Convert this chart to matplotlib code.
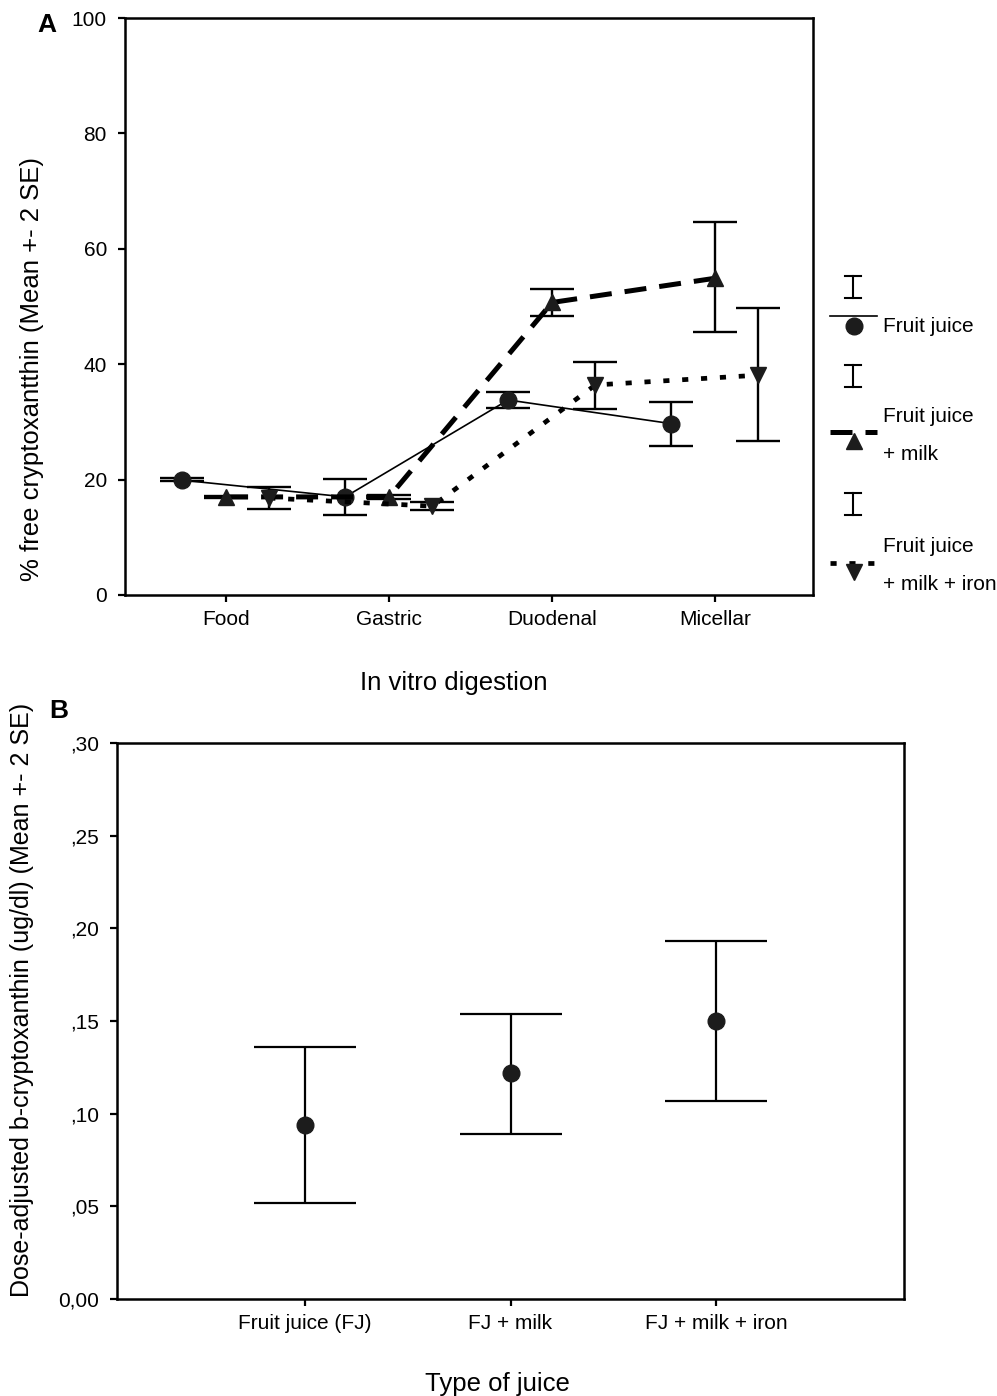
import matplotlib
matplotlib.use('Agg')
import matplotlib.pyplot as plt
from matplotlib.lines import Line2D
import numpy as np

plt.rcParams['font.family'] = ['Liberation Sans', 'DejaVu Sans']

# panel A: % free cryptoxanthin per digestion step
stages = ['Food', 'Gastric', 'Duodenal', 'Micellar']
fj_mean = [19.9, 17.0, 33.8, 29.7]
fj_low = [19.7, 13.9, 32.4, 25.8]
fj_high = [20.2, 20.1, 35.2, 33.4]
milk_mean = [17.0, 17.0, 50.7, 54.9]
milk_low = [16.8, 16.7, 48.3, 45.5]
milk_high = [17.2, 17.3, 53.0, 64.6]
iron_mean = [16.8, 15.4, 36.4, 38.1]
iron_low = [14.9, 14.7, 32.2, 26.7]
iron_high = [18.7, 16.1, 40.3, 49.7]
legend_names = ['Fruit juice', 'Fruit juice\n+ milk', 'Fruit juice\n+ milk + iron']

# panel B: dose-adjusted b-cryptoxanthin
juices = ['Fruit juice (FJ)', 'FJ + milk', 'FJ + milk + iron']
dose_mean = [0.094, 0.122, 0.150]
dose_low = [0.052, 0.089, 0.107]
dose_high = [0.136, 0.154, 0.193]
dose_ticks = [0.0, 0.05, 0.10, 0.15, 0.20, 0.25, 0.30]
dose_ticklabels = ['0,00', ',05', ',10', ',15', ',20', ',25', ',30']

W, H = 997, 1396
fig = plt.figure(figsize=(W / 100, H / 100), dpi=100)

def fx(x):
	return x / W

def fy(y):
	return 1 - y / H

def style_axes(ax):
	for s in ax.spines.values():
		s.set_linewidth(1.8)
	ax.tick_params(direction='out', width=1.6, length=5, labelsize=15)

def errs(mean, low, high):
	m = np.array(mean)
	return [m - np.array(low), np.array(high) - m]

# ---- panel A ----
ax1 = fig.add_axes([fx(125), fy(595), (813 - 125) / W, (595 - 18) / H])
style_axes(ax1)
xs = np.arange(len(stages))
series = [
	(fj_mean, fj_low, fj_high, -0.27, dict(ls='-', lw=1.2, marker='o', ms=12)),
	(milk_mean, milk_low, milk_high, 0.0, dict(ls=(0, (4.4, 2.6)), lw=3.6, marker='^', ms=12)),
	(iron_mean, iron_low, iron_high, 0.265, dict(ls=(0, (1.3, 2.7)), lw=3.4, marker='v', ms=12)),
]
for mean, low, high, off, st in series:
	ax1.errorbar(xs + off, mean, yerr=errs(mean, low, high), fmt='none',
			ecolor='black', elinewidth=1.7, capsize=15.5, capthick=1.7, zorder=2)
for mean, low, high, off, st in series:
	ax1.plot(xs + off, mean, color='black', mfc='#1c1c1c', mec='#1c1c1c',
			dash_capstyle='butt', zorder=3, **st)
ax1.set_xlim(-0.62, 3.60)
ax1.set_ylim(0, 100)
ax1.set_xticks(xs)
ax1.set_xticklabels(stages)
ax1.set_yticks([0, 20, 40, 60, 80, 100])
ax1.tick_params(axis='x', pad=6)
ax1.tick_params(axis='y', pad=8)

fig.text(fx(454), fy(683), 'In vitro digestion', fontsize=18.5, ha='center', va='center')
fig.text(fx(32), fy(369), '% free cryptoxantthin (Mean +- 2 SE)', fontsize=18.5,
		rotation=90, ha='center', va='center')
fig.text(fx(47), fy(25), 'A', fontsize=19, fontweight='bold', ha='center', va='center')

# legend drawn at the right of panel A
def fig_line(xd, yd, **kw):
	fig.add_artist(Line2D([fx(v) for v in xd], [fy(v) for v in yd],
			transform=fig.transFigure, color='black', **kw))

def ibar(yc):
	fig_line([853, 853], [yc - 11, yc + 11], lw=1.5)
	fig_line([845, 861], [yc - 11, yc - 11], lw=1.5)
	fig_line([845, 861], [yc + 11, yc + 11], lw=1.5)

leg_rows = [
	(287, 316, 326, [326]),
	(376, 432, 441, [416, 455]),
	(504, 563, 572, [546, 584]),
]
for (ib, ly, my, ty), (mean, low, high, off, st), name in zip(leg_rows, series, legend_names):
	ibar(ib)
	fig_line([830, 877], [ly, ly], ls=st['ls'], lw=st['lw'], dash_capstyle='butt')
	fig_line([854], [my], ls='none', marker=st['marker'], ms=12, mfc='#1c1c1c', mec='#1c1c1c')
	for t, yy in zip(name.split('\n'), ty):
		fig.text(fx(883), fy(yy), t, fontsize=15, ha='left', va='center')

# ---- panel B ----
ax2 = fig.add_axes([fx(117), fy(1299), (904 - 117) / W, (1299 - 743) / H])
style_axes(ax2)
xj = np.arange(len(juices))
ax2.errorbar(xj, dose_mean, yerr=errs(dose_mean, dose_low, dose_high), fmt='none',
		ecolor='black', elinewidth=1.6, capsize=37, capthick=1.6, zorder=2)
ax2.plot(xj, dose_mean, ls='none', marker='o', ms=12, mfc='#1c1c1c', mec='#1c1c1c', zorder=3)
ax2.set_xlim(-0.915, 2.915)
ax2.set_ylim(0, 0.30)
ax2.set_xticks(xj)
ax2.set_xticklabels(juices)
ax2.set_yticks(dose_ticks)
ax2.set_yticklabels(dose_ticklabels)
ax2.tick_params(axis='x', pad=6)
ax2.tick_params(axis='y', pad=8)

fig.text(fx(497), fy(1384), 'Type of juice', fontsize=18.5, ha='center', va='center')
fig.text(fx(22), fy(1000), 'Dose-adjusted b-cryptoxanthin (ug/dl) (Mean +- 2 SE)',
		fontsize=18, rotation=90, ha='center', va='center')
fig.text(fx(59), fy(711), 'B', fontsize=19, fontweight='bold', ha='center', va='center')

fig.savefig('out.png', dpi=100)
